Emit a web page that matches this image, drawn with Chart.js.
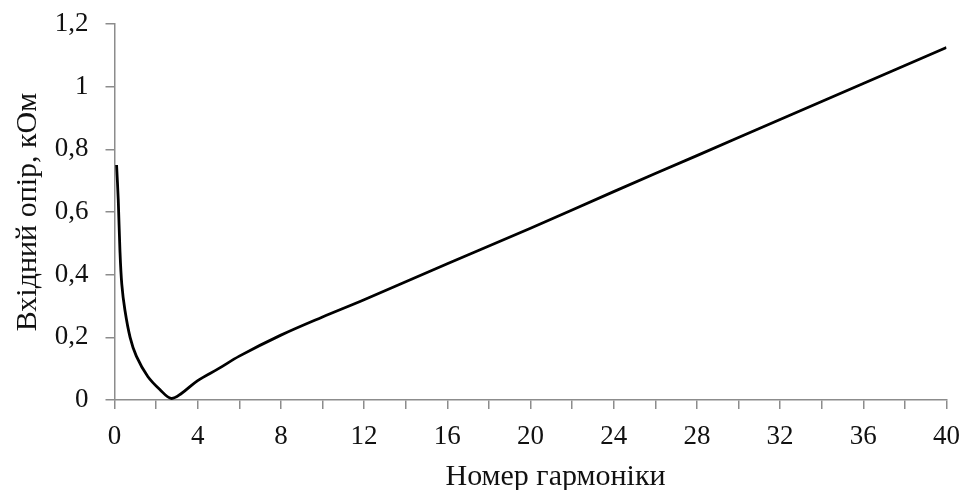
<!DOCTYPE html>
<html>
<head>
<meta charset="utf-8">
<script src="https://cdn.jsdelivr.net/npm/chart.js@4/dist/chart.umd.min.js"></script>
<style>
  html, body { margin: 0; padding: 0; background: #fff; }
  #wrap { width: 968px; height: 490px; position: relative; }
</style>
</head>
<body>
<div id="wrap"><canvas id="chart" width="968" height="490"></canvas></div>
<script>
// Input resistance versus harmonic number
const harmonics = [0.1, 0.18, 0.26, 0.35, 0.5, 0.75, 1.05, 1.6, 2.2, 2.72, 3.2, 4, 5, 6, 8, 10, 12, 16, 20, 24, 28, 32, 36, 40];
const resistance = [0.75, 0.64, 0.48, 0.37, 0.287, 0.2, 0.14, 0.075, 0.032, 0.005, 0.02, 0.062, 0.1, 0.14, 0.207, 0.265, 0.32, 0.435, 0.548, 0.665, 0.78, 0.895, 1.01, 1.125];
const xTitle = 'Номер гармоніки';
const yTitle = 'Вхідний опір, кОм';

const points = harmonics.map((h, i) => ({ x: h, y: resistance[i] }));
const serif = '"Liberation Serif", "Times New Roman", serif';
const axisGrey = '#8c8c8c';
const textColor = '#111';

// Horizontal axis caption, drawn below the tick labels, slightly right of centre
const xCaption = {
  id: 'xCaption',
  afterDraw(chart) {
    const { ctx, chartArea } = chart;
    ctx.save();
    ctx.font = '30px ' + serif;
    ctx.fillStyle = textColor;
    ctx.textAlign = 'center';
    ctx.textBaseline = 'alphabetic';
    ctx.fillText(xTitle, (chartArea.left + chartArea.right) / 2 + 25, 485);
    ctx.restore();
  }
};

new Chart(document.getElementById('chart'), {
  type: 'line',
  data: {
    datasets: [{
      data: points,
      borderColor: '#000',
      borderWidth: 2.8,
      pointRadius: 0,
      tension: 0.35,
      fill: false
    }]
  },
  options: {
    responsive: false,
    animation: false,
    plugins: { legend: { display: false }, tooltip: { enabled: false } },
    layout: { padding: { left: 0, right: 21, top: 24, bottom: 0 } },
    scales: {
      x: {
        type: 'linear',
        min: 0, max: 40,
        afterFit: s => { s.height = 90; },
        border: { display: true, color: axisGrey, width: 1.5 },
        grid: { drawOnChartArea: false, drawTicks: true, tickLength: 9, color: axisGrey, lineWidth: 1.5 },
        ticks: {
          stepSize: 2,
          autoSkip: false,
          maxRotation: 0,
          padding: 8,
          color: textColor,
          font: { family: serif, size: 27, lineHeight: 1.44 },
          callback: v => (Math.round(v) % 4 === 0 ? String(Math.round(v)) : '')
        }
      },
      y: {
        min: 0, max: 1.2,
        afterFit: s => { s.width = 114.5; },
        border: { display: true, color: axisGrey, width: 1.5 },
        grid: { drawOnChartArea: false, drawTicks: true, tickLength: 9, color: axisGrey, lineWidth: 1.5 },
        ticks: {
          stepSize: 0.2,
          padding: 17,
          color: textColor,
          font: { family: serif, size: 27, lineHeight: 0.5 },
          callback: v => String(Math.round(v * 10) / 10).replace('.', ',')
        },
        title: {
          display: true, text: yTitle, color: textColor,
          font: { family: serif, size: 30 },
          padding: { top: 10, bottom: 0 }
        }
      }
    }
  },
  plugins: [xCaption]
});
</script>
</body>
</html>
